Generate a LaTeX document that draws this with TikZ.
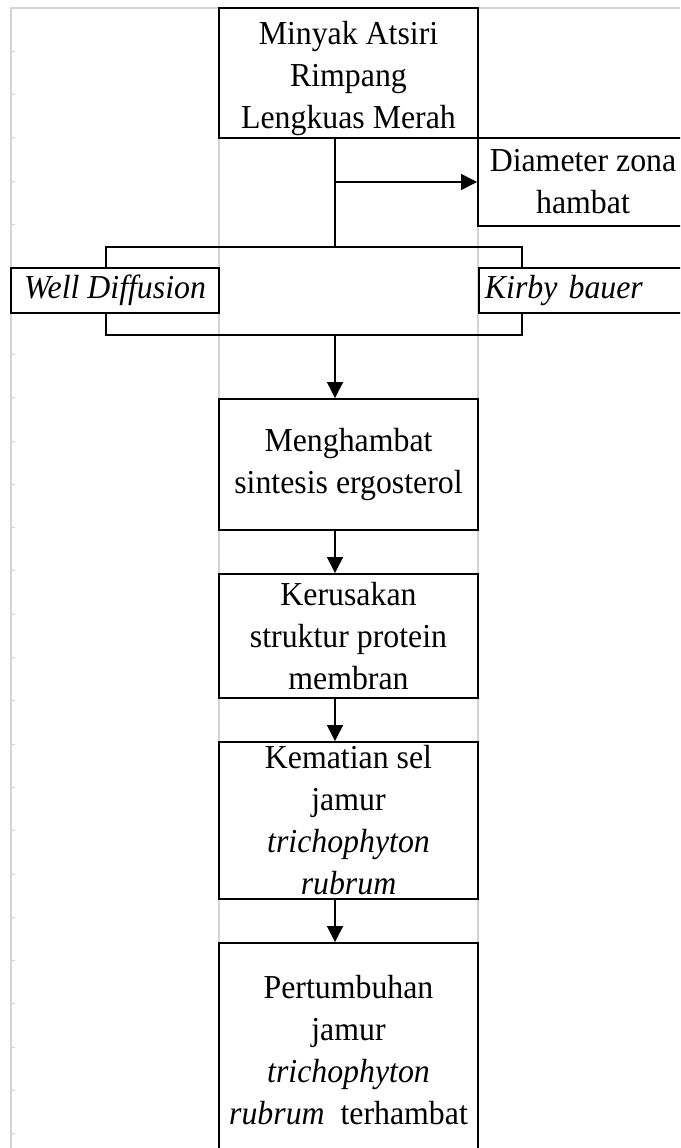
\documentclass[tikz,border=0pt]{standalone}
\usepackage{fontspec}
\setmainfont{Liberation Serif}[FakeStretch=0.95]
\usepackage{xcolor}
\definecolor{sheetgray}{RGB}{212,212,212}
\usetikzlibrary{arrows.meta}

\begin{document}
\begin{tikzpicture}[
    x=1pt, y=-1pt,
    box/.style={draw, line width=1.9pt, fill=white, inner sep=0pt,
                align=center, font=\fontsize{33.5}{42}\selectfont},
    link/.style={line width=1.2pt},
    flow/.style={link, -{Triangle[length=16pt,width=16pt]}},
    sheet/.style={draw=sheetgray, line width=1.8pt}
  ]
  \useasboundingbox (0,0) rectangle (680,1148);
  \clip (0,0) rectangle (680,1148);

  % sheet lines behind the chart
  \draw[sheet] (11,1148) -- (11,8) -- (680,8);
  \draw[sheet] (219,8) -- (219,1148);
  \draw[sheet] (478,8) -- (478,1148);
  \foreach \k in {1,...,26} {
    \draw[sheetgray, line width=1pt] (11,{8+43.3*\k}) -- (15,{8+43.3*\k});
  }

  % top: oil and measured zone
  \node[box, minimum width=259pt, minimum height=130pt] (oil) at (348.5,73)
    {\rule{0pt}{34pt}Minyak Atsiri\\Rimpang\\Lengkuas Merah};
  \node[box, minimum width=210pt, minimum height=88pt] (zone) at (583,182)
    {Diameter zona\\hambat};

  % test methods
  \node[box, minimum width=208pt, minimum height=45pt] (well) at (115,290.5)
    {\textit{Well Diffusion}};
  \node[box, anchor=west, minimum height=45pt, text width=208pt, align=left,
        inner xsep=6pt] (kirby) at (478,290.5) {\textit{Kirby bauer}};

  % mechanism chain
  \node[box, minimum width=259pt, minimum height=131pt] (inhib) at (348.5,464.5)
    {Menghambat\\sintesis ergosterol};
  \node[box, minimum width=259pt, minimum height=124pt] (damage) at (348.5,636)
    {Kerusakan\\struktur protein\\membran};
  \node[box, minimum width=259pt, minimum height=157pt] (death) at (348.5,820.5)
    {Kematian sel\\jamur\\\textit{trichophyton}\\\textit{rubrum}};
  \node[box, minimum width=259pt, minimum height=215pt] (growth) at (348.5,1050.5)
    {Pertumbuhan\\jamur\\\textit{trichophyton}\\\textit{rubrum}\ \ terhambat};

  % branching connectors
  \coordinate (fork) at (335,247);
  \coordinate (tap) at (335,182);
  \draw[link] (oil.south -| fork) -- (fork);
  \draw[flow] (tap) -- (tap -| zone.west);
  \coordinate (wl) at (106,247);
  \coordinate (kr) at (522,247);
  \draw[link] (wl |- well.north) -- (wl) -- (kr) -- (kr |- kirby.north);
  \coordinate (wl2) at (106,335);
  \coordinate (kr2) at (522,335);
  \draw[link] (wl2 |- well.south) -- (wl2) -- (kr2) -- (kr2 |- kirby.south);

  % downward arrows
  \coordinate (join) at (335,335);
  \draw[flow] (join) -- (join |- inhib.north);
  \draw[flow] (inhib.south -| join) -- (damage.north -| join);
  \draw[flow] (damage.south -| join) -- (death.north -| join);
  \draw[flow] (death.south -| join) -- (growth.north -| join);
\end{tikzpicture}
\end{document}
